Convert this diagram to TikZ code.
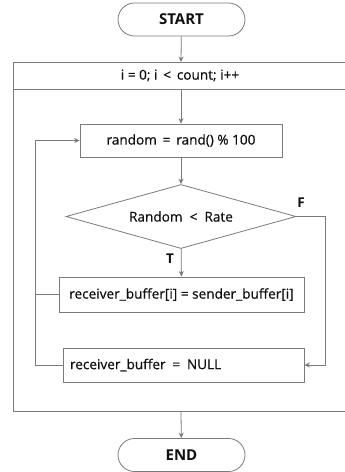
\documentclass[tikz,border=0pt]{standalone}
\usepackage{fontspec}
\setmainfont{Open Sans}
% slightly heavier weight for the regular labels
\newfontfamily\flowfont{Open Sans}[FakeBold=0.6]
\usetikzlibrary{shapes.geometric,arrows.meta}
\definecolor{edgegray}{HTML}{7A7A7A}
\definecolor{inkblack}{HTML}{101010}
\begin{document}
\begin{tikzpicture}[x=1pt,y=-1pt,
  every node/.style={text=inkblack, font=\flowfont\fontsize{13.6}{16}\selectfont},
  flowline/.style={draw=edgegray, line width=0.8pt},
  flowarrow/.style={flowline, -{Stealth[length=5.5pt,width=5pt]}},
  terminal/.style={draw=edgegray, line width=0.8pt, rounded corners=16.5pt,
    minimum width=127pt, minimum height=33pt, inner sep=0pt,
    font=\normalfont\fontsize{15}{17}\selectfont\bfseries},
  procbox/.style={draw=edgegray, line width=0.8pt, minimum height=33pt, inner sep=0pt},
  decision/.style={draw=edgegray, line width=0.8pt, diamond, aspect=3.6,
    minimum width=230pt, minimum height=64pt, inner sep=0pt},
  branch/.style={font=\normalfont\fontsize{13.5}{15}\selectfont\bfseries}]
\useasboundingbox (0,0) rectangle (345,472);

% terminals
\node[terminal] (start) at (181.5,19.5) {START};
\node[terminal] (end) at (181.5,455) {END};

% loop frame: header row and body, open on the right
\draw[flowline] (350,62) -- (13,62) -- (13,411.5) -- (350,411.5);
\draw[flowline] (13,89) -- (350,89);
\node (loop) at (180,75.5) {i = 0;\ i \,<\, count;\ i++};
\coordinate (hdrtop) at (181,62);
\coordinate (hdrbot) at (181,89);
\coordinate (frbot) at (181,411.5);

% loop body
\node[procbox, minimum width=202pt] (rnd) at (181,140.5) {random \,=\, rand() \% 100};
\node[decision] (dec) at (181,216.5) {Random \ < \ Rate};
\node[procbox, minimum width=245pt, minimum height=35pt] (assign) at (181.5,294.5)
  {receiver\_buffer[i] = sender\_buffer[i]};
\node[procbox, minimum width=241pt, minimum height=34pt, text width=227pt, align=left]
  (null) at (183.5,365) {receiver\_buffer \,=\, NULL};

% branch labels
\node[branch] (flab) at (301,203) {F};
\node[branch] (tlab) at (170,259) {T};

% return path on the left
\coordinate (backtop) at (35,140.5);
\coordinate (backmid) at (35,294.5);
\coordinate (backbot) at (35,365);
% false path on the right
\coordinate (fright) at (325,216.5);
\coordinate (fdown) at (325,365);

% connectors
\draw[flowarrow] (start) -- (hdrtop);
\draw[flowarrow] (hdrbot) -- (rnd);
\draw[flowarrow] (rnd) -- (dec);
\draw[flowarrow] (dec) -- (assign);
\draw[flowline] (assign.west) -- (backmid);
\draw[flowarrow] (null.west) -- (backbot) -- (backtop) -- (rnd.west);
\draw[flowarrow] (dec.east) -- (fright) -- (fdown) -- (null.east);
\draw[flowarrow] (frbot) -- (end);
\end{tikzpicture}
\end{document}
